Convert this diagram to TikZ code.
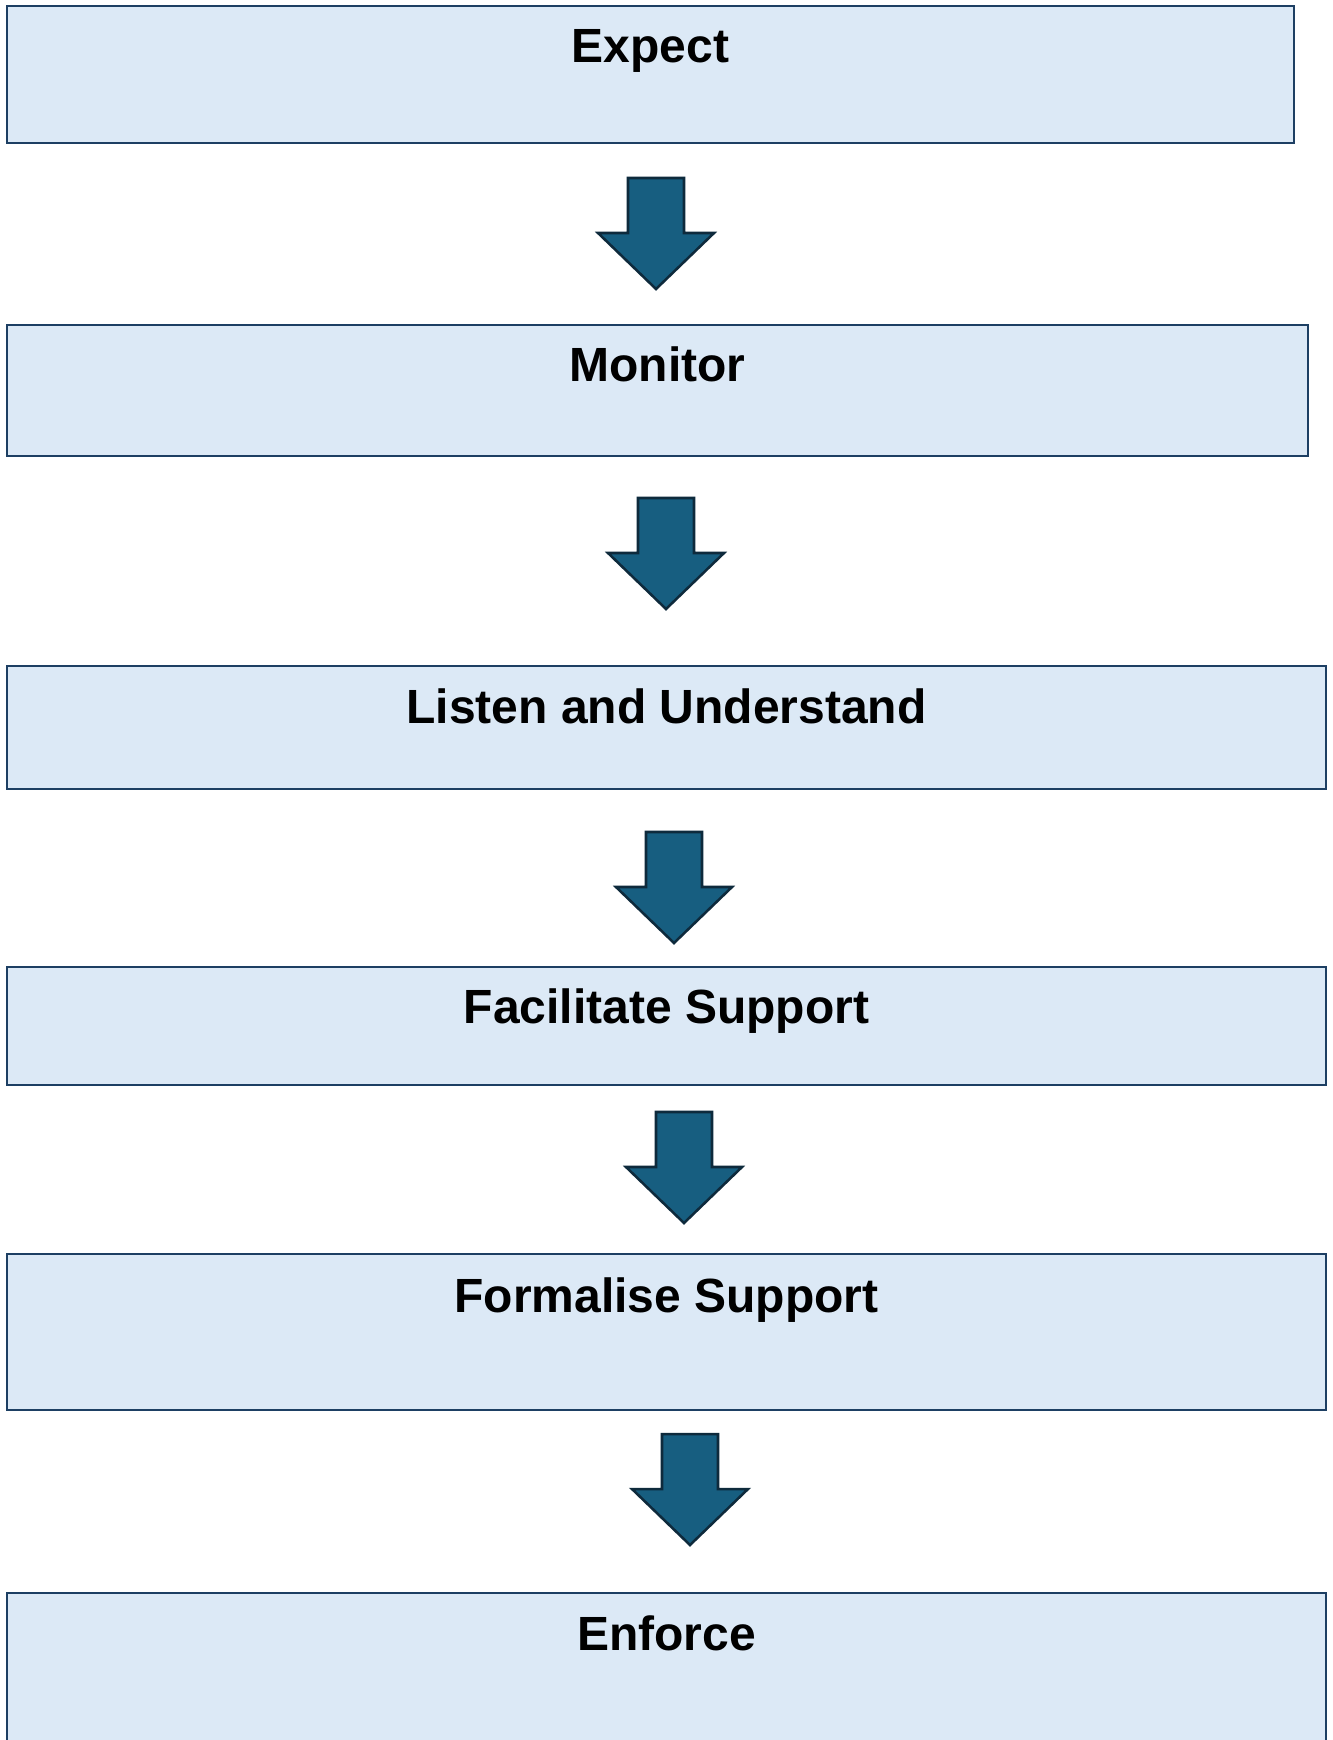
\documentclass[tikz,border=0pt]{standalone}
\usepackage{fontspec}
\setmainfont{Liberation Sans}
\definecolor{boxfill}{HTML}{DCE9F6}
\definecolor{boxline}{HTML}{1D3F63}
\definecolor{arrfill}{HTML}{175E80}
\definecolor{arrline}{HTML}{0E2A3C}
\tikzset{
  stepbox/.style={draw=boxline, fill=boxfill, line width=2pt},
  steplabel/.style={anchor=base, inner sep=0pt, font=\fontsize{36}{40}\selectfont\bfseries, text=black},
  blockarrow/.pic={
    \draw[draw=arrline, fill=arrfill, line width=1.9pt, line join=miter]
      (-28,0) -- (28,0) -- (28,55) -- (58,55) -- (0,111) -- (-58,55) -- (-28,55) -- cycle;
  }
}
\begin{document}
\begin{tikzpicture}[x=0.75pt, y=-0.75pt]
\useasboundingbox (0,0) rectangle (1333,1740);
\fill[white] (0,0) rectangle (1333,1740);
% boxes
\draw[stepbox] (7,6) rectangle (1294,143);
\draw[stepbox] (7,325) rectangle (1308,456);
\draw[stepbox] (7,666) rectangle (1326,789);
\draw[stepbox] (7,967) rectangle (1326,1085);
\draw[stepbox] (7,1254) rectangle (1326,1410);
\draw[stepbox] (7,1593) rectangle (1326,1760);
% labels
\node[steplabel] (expect) at (650.5,63) {Expect};
\node[steplabel] (monitor) at (657.5,382) {Monitor};
\node[steplabel] (listen) at (666.5,723) {Listen and Understand};
\node[steplabel] (facilitate) at (666.5,1023) {Facilitate Support};
\node[steplabel] (formalise) at (666.5,1312) {Formalise Support};
\node[steplabel] (enforce) at (666.5,1650) {Enforce};
% arrows
\pic at (656,178) {blockarrow};
\pic at (666,498) {blockarrow};
\pic at (674,832) {blockarrow};
\pic at (684,1112) {blockarrow};
\pic at (690,1434) {blockarrow};
\end{tikzpicture}
\end{document}
